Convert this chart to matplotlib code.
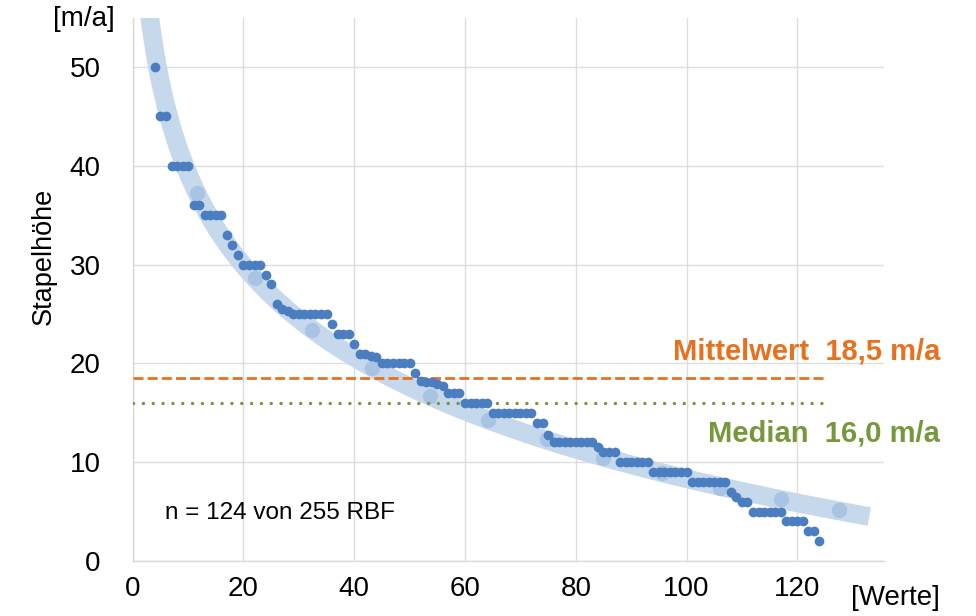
import numpy as np
import matplotlib.pyplot as plt

plt.rcParams['font.family'] = ['Liberation Sans', 'DejaVu Sans']

# Rang der Werte (die ersten drei liegen ausserhalb der Achse)
werte = np.arange(4, 125)
stapelhoehe = [50, 45, 45, 40, 40, 40, 40, 36, 36, 35, 35, 35, 35, 33, 32, 31,
               30, 30, 30, 30, 29, 28, 26, 25.5, 25.3, 25, 25, 25, 25, 25, 25, 25,
               24, 23, 23, 23, 22, 21, 21, 20.8, 20.7, 20, 20, 20, 20, 20, 20,
               19, 18.2, 18.1, 18.1, 17.9, 17.7, 17, 17, 17, 16, 16, 16, 16, 16,
               15, 15, 15, 15, 15, 15, 15, 15, 14, 14, 12.8,
               12, 12, 12, 12, 12, 12, 12, 12, 11.5, 11, 11, 11,
               10, 10, 10, 10, 10, 10, 9, 9, 9, 9, 9, 9, 9,
               8, 8, 8, 8, 8, 8, 8, 7, 6.5, 6, 6, 5, 5, 5, 5, 5, 5,
               4, 4, 4, 4, 3, 3, 2]

# Punkte auf der Trendlinie (hell)
trend_x = [11.6, 22.0, 32.4, 43.2, 53.7, 64.2, 74.8, 85.0, 95.6, 106.1, 117.0, 127.5]
trend_y = [37.3, 28.6, 23.4, 19.5, 16.7, 14.3, 12.3, 10.4, 8.9, 7.4, 6.3, 5.2]

mittelwert = 18.5
median = 16.0
n_text = "n = 124 von 255 RBF"

blue = '#4a7ec0'
orange = '#e8711e'
green = '#77973c'

fig = plt.figure(figsize=(9.76, 6.16), dpi=100)
ax = fig.add_axes([0.136, 0.0893, 0.770, 0.882])

# logarithmische Trendlinie
b, a = np.polyfit(np.log(trend_x), trend_y, 1)
xt = np.linspace(1, 133, 300)
ax.plot(xt, a + b * np.log(xt), color='#c6d8ec', lw=13.5, solid_capstyle='butt', zorder=2)
ax.plot(trend_x, trend_y, 'o', color='#a9c3e3', ms=10, zorder=2.5)

ax.plot([0, 125], [mittelwert, mittelwert], color=orange, lw=2,
        linestyle=(0, (3.6, 1.5)), zorder=3)
ax.plot([0, 125], [median, median], color=green, lw=2.4,
        linestyle=(0, (0.05, 2.9)), dash_capstyle='round', zorder=3)

ax.plot(werte, stapelhoehe, 'o', color=blue, ms=6, zorder=4)

ax.set_xlim(0, 135.7)
ax.set_ylim(0, 55)
ax.set_xticks(np.arange(0, 121, 20))
ax.set_yticks(np.arange(0, 51, 10))
ax.grid(True, color='#dedede', lw=1)
ax.set_axisbelow(True)
for s in ['top', 'right']:
    ax.spines[s].set_visible(False)
for s in ['left', 'bottom']:
    ax.spines[s].set_color('#d9d9d9')
    ax.spines[s].set_linewidth(1)
ax.tick_params(length=0, labelsize=20, colors='black')
ax.tick_params(axis='y', pad=23)
ax.tick_params(axis='x', pad=11)

fig.text(0.045, 0.584, 'Stapelhöhe', rotation=90, fontsize=19.5, ha='center', va='center')
fig.text(0.086, 0.969, '[m/a]', fontsize=20, ha='center', va='center')
fig.text(0.917, 0.029, '[Werte]', fontsize=20, ha='center', va='center')
fig.text(0.963, 0.4286, 'Mittelwert  18,5 m/a', color=orange, fontsize=21,
         fontweight='bold', ha='right', va='center')
fig.text(0.963, 0.297, 'Median  16,0 m/a', color=green, fontsize=21,
         fontweight='bold', ha='right', va='center')
fig.text(0.169, 0.167, n_text, fontsize=17.5, ha='left', va='center')

fig.savefig('out.png', dpi=100)
